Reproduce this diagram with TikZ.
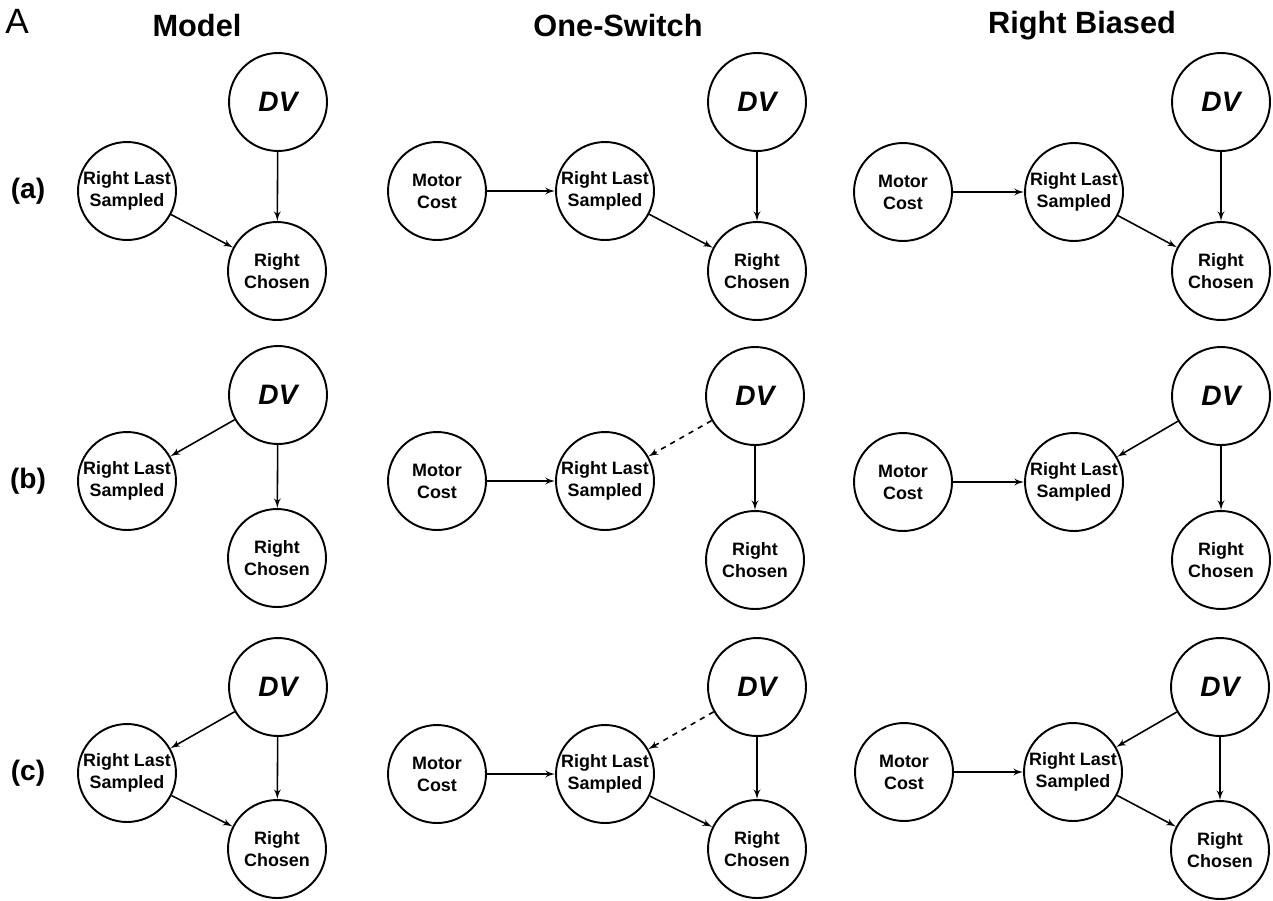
\documentclass[tikz,border=0pt]{standalone}
\usepackage{fontspec}
\setmainfont{Liberation Sans}
\usepackage{tikz}
\usetikzlibrary{shapes,arrows,positioning}
\tikzstyle{var} = [circle, draw, line width=1.1pt, minimum size=1.96cm, inner sep=0pt,
align=center, font=\bfseries\fontsize{10.2}{12.5}\selectfont]
\tikzstyle{dv} = [var, font=\bfseries\itshape\fontsize{16}{16}\selectfont]
\tikzstyle{head} = [font=\bfseries\fontsize{17.5}{18}\selectfont]
\tikzstyle{row} = [font=\bfseries\fontsize{16}{16}\selectfont]
\tikzstyle{line} = [draw, line width=0.9pt, -latex']
\tikzstyle{dline} = [line, dashed]

\begin{document}
\begin{tikzpicture}[x=0.02cm, y=-0.02cm]
	\useasboundingbox (0,0) rectangle (1273,900);
	% headings
	\node [font=\fontsize{20}{20}\selectfont] (panel) at (17,21) {A};
	\node [head] (model) at (197,26) {Model};
	\node [head] (oneswitch) at (618,26) {One-Switch};
	\node [head] (rightbiased) at (1082,26) {Right Biased};
	\node [row] (rowa) at (28,191) {(a)};
	\node [row] (rowb) at (28,481) {(b)};
	\node [row] (rowc) at (28,773) {(c)};
	
	% Model
	\node [var] (lastma) at (127,191) {Right Last\\Sampled};
	\node [dv] (DVma) at (278,102) {DV};
	\node [var] (chosenma) at (277,271) {Right\\Chosen};
	\node [var] (lastmb) at (127,481) {Right Last\\Sampled};
	\node [dv] (DVmb) at (278,395) {DV};
	\node [var] (chosenmb) at (277,558) {Right\\Chosen};
	\node [var] (lastmc) at (127,773) {Right Last\\Sampled};
	\node [dv] (DVmc) at (278,687) {DV};
	\node [var] (chosenmc) at (277,849) {Right\\Chosen};
	\path [line] (DVma) -- (chosenma);
	\path [line] (lastma) -- (chosenma);
	\path [line] (DVmb) -- (lastmb);
	\path [line] (DVmb) -- (chosenmb);
	\path [line] (DVmc) -- (lastmc);
	\path [line] (DVmc) -- (chosenmc);
	\path [line] (lastmc) -- (chosenmc);
	
	% One-Switch
	\node [var] (costoa) at (437,191) {Motor\\Cost};
	\node [var] (lastoa) at (605,191) {Right Last\\Sampled};
	\node [dv] (DVoa) at (757,102) {DV};
	\node [var] (chosenoa) at (757,271) {Right\\Chosen};
	\node [var] (costob) at (437,481) {Motor\\Cost};
	\node [var] (lastob) at (605,481) {Right Last\\Sampled};
	\node [dv] (DVob) at (755,396) {DV};
	\node [var] (chosenob) at (755,560) {Right\\Chosen};
	\node [var] (costoc) at (437,774) {Motor\\Cost};
	\node [var] (lastoc) at (605,774) {Right Last\\Sampled};
	\node [dv] (DVoc) at (757,687) {DV};
	\node [var] (chosenoc) at (757,849) {Right\\Chosen};
	\path [line] (costoa) -- (lastoa);
	\path [line] (DVoa) -- (chosenoa);
	\path [line] (lastoa) -- (chosenoa);
	\path [line] (costob) -- (lastob);
	\path [dline] (DVob) -- (lastob);
	\path [line] (DVob) -- (chosenob);
	\path [line] (costoc) -- (lastoc);
	\path [dline] (DVoc) -- (lastoc);
	\path [line] (DVoc) -- (chosenoc);
	\path [line] (lastoc) -- (chosenoc);
	
	% Right Biased
	\node [var] (costra) at (903,192) {Motor\\Cost};
	\node [var] (lastra) at (1074,192) {Right Last\\Sampled};
	\node [dv] (DVra) at (1221,102) {DV};
	\node [var] (chosenra) at (1221,271) {Right\\Chosen};
	\node [var] (costrb) at (903,482) {Motor\\Cost};
	\node [var] (lastrb) at (1074,482) {Right Last\\Sampled};
	\node [dv] (DVrb) at (1221,396) {DV};
	\node [var] (chosenrb) at (1221,560) {Right\\Chosen};
	\node [var] (costrc) at (904,772) {Motor\\Cost};
	\node [var] (lastrc) at (1073,772) {Right Last\\Sampled};
	\node [dv] (DVrc) at (1220,687) {DV};
	\node [var] (chosenrc) at (1220,850) {Right\\Chosen};
	\path [line] (costra) -- (lastra);
	\path [line] (DVra) -- (chosenra);
	\path [line] (lastra) -- (chosenra);
	\path [line] (costrb) -- (lastrb);
	\path [line] (DVrb) -- (lastrb);
	\path [line] (DVrb) -- (chosenrb);
	\path [line] (costrc) -- (lastrc);
	\path [line] (DVrc) -- (lastrc);
	\path [line] (DVrc) -- (chosenrc);
	\path [line] (lastrc) -- (chosenrc);
	
	\end{tikzpicture}
\end{document}
